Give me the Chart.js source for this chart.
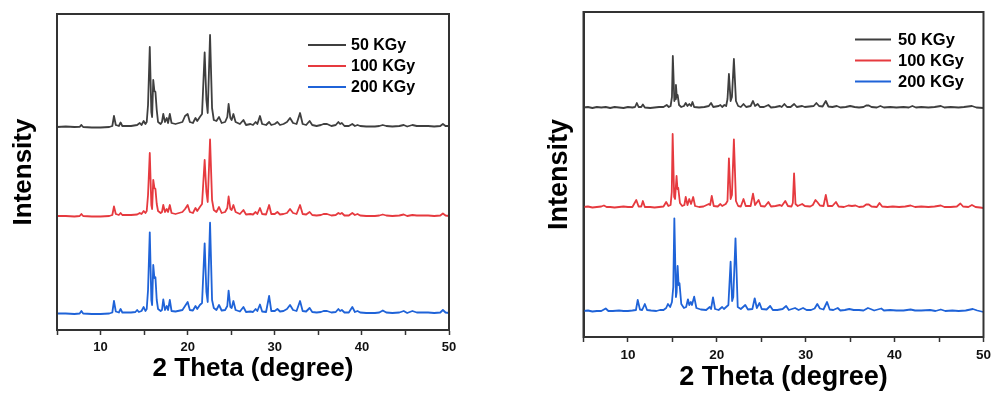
<!DOCTYPE html>
<html><head><meta charset="utf-8">
<script src="https://cdn.jsdelivr.net/npm/chart.js@4/dist/chart.umd.min.js"></script>
<style>
html,body{margin:0;padding:0;background:#fff;width:996px;height:396px;overflow:hidden}
.box{position:absolute;top:0;height:396px}
#b1{left:0;width:470px}
#b2{left:520px;width:476px}
</style></head><body>
<div class="box" id="b1"><canvas id="c1"></canvas></div>
<div class="box" id="b2"><canvas id="c2"></canvas></div>
<script>
// ---------- data (2θ in degrees, intensity in arbitrary stacked units) ----------
const seriesLabels = ['50 KGy', '100 KGy', '200 KGy'];
const xTickLabels = [10, 20, 30, 40, 50];
const xTickStep = 5;
const xRange = [5, 50];

// Left panel
const left50 = [[5,203],[6,203.5],[7,203],[7.6,203.2],[7.8,205],[8.0,203],[9,202.5],[10,202.5],[11,203],[11.35,204],[11.54,214],[11.75,205],[12.1,204],[12.3,207.5],[12.5,204],[13.5,204],[14.2,205],[14.5,207],[14.7,205],[14.95,209],[15.15,206],[15.3,208],[15.45,225],[15.65,283],[15.83,218],[15.92,213],[16.05,250],[16.18,239],[16.3,238],[16.45,220],[16.6,208],[16.9,206],[17.05,208],[17.2,216],[17.4,208],[17.6,212],[17.75,207],[17.95,216],[18.15,207],[18.6,206],[19.4,208],[19.7,214],[20.0,216],[20.25,208],[20.6,207],[20.9,212],[21.1,209],[21.4,213],[21.65,216],[21.95,277.5],[22.15,230],[22.3,217],[22.57,295],[22.8,222],[23.0,210],[23.3,209],[23.6,213],[23.9,207],[24.3,208],[24.55,213],[24.7,226],[24.9,212],[25.05,210],[25.25,216],[25.5,208],[26.0,206],[26.4,210],[26.7,205],[27.2,206],[27.5,205],[27.8,208],[28.0,206],[28.3,214],[28.55,206],[29.0,205],[29.35,208],[29.6,205],[30.0,206],[30.3,208],[30.6,205],[31.0,206],[31.4,208],[31.75,212],[32.1,207],[32.5,206],[32.9,217],[33.2,206],[33.6,205],[34.0,209],[34.3,205],[34.8,204],[35.3,205],[35.6,206],[36.0,206],[36.5,204],[37.0,205],[37.3,208],[37.5,206],[37.7,207],[38.0,204],[38.5,204],[38.9,206],[39.2,204],[39.5,205],[39.8,204],[40.5,203.5],[41.5,203.5],[42.0,204],[42.4,205],[42.8,204],[43.5,203.5],[44.3,204],[44.8,205],[45.2,203.5],[45.8,205],[46.3,204],[47.0,204],[47.6,204],[48.3,203.5],[49.0,204],[49.3,206],[49.6,204],[50,204]];
const left100 = [[5,114],[6,114],[7,113.5],[7.6,114],[7.8,116],[8.0,114],[9,113.5],[10,113.5],[11,114],[11.35,115],[11.54,123.5],[11.75,116],[12.1,115],[12.3,117],[12.5,115],[13.5,115],[14.2,115.5],[14.5,117],[14.7,116],[14.95,119],[15.15,117],[15.3,119],[15.45,135],[15.65,177],[15.83,125],[15.92,121],[16.05,150],[16.18,142],[16.3,141],[16.45,126],[16.6,119],[16.9,117],[17.05,118],[17.2,125],[17.4,118],[17.6,121],[17.75,118],[17.95,125],[18.15,117],[18.6,116],[19.4,118],[19.7,121],[20.0,125],[20.25,118],[20.6,117],[20.9,122],[21.1,119],[21.4,123],[21.65,126],[21.95,170],[22.15,138],[22.3,128],[22.57,190.5],[22.8,130],[23.0,120],[23.3,118],[23.6,123],[23.9,117],[24.3,118],[24.55,122],[24.7,133.5],[24.9,121],[25.05,120],[25.25,125],[25.5,118],[26.0,116],[26.4,120],[26.7,115.5],[27.2,116],[27.5,115.5],[27.8,118],[28.0,116],[28.3,122],[28.55,116],[29.0,115.5],[29.35,125],[29.6,116],[30.0,116],[30.3,118],[30.6,115.5],[31.0,116],[31.4,117],[31.75,121],[32.1,117],[32.5,116],[32.9,125],[33.2,116],[33.6,115.5],[34.0,118],[34.3,115],[34.8,114.5],[35.3,115],[35.6,116],[36.0,116],[36.5,114.5],[37.0,115],[37.3,117],[37.5,116],[37.7,117],[38.0,114.5],[38.5,114.5],[38.9,117],[39.2,115],[39.5,116],[39.8,114.5],[40.5,114],[41.5,114],[42.0,114.5],[42.4,115.5],[42.8,114.5],[43.5,114],[44.3,114.5],[44.8,115.5],[45.2,114],[45.8,115],[46.3,114.5],[47.0,114.5],[47.6,114.5],[48.3,114],[49.0,114.5],[49.3,116.5],[49.6,114.5],[50,114]];
const left200 = [[5,16.5],[6,16.5],[7,16],[7.6,16.5],[7.8,19],[8.0,16.5],[9,16],[10,16],[11,16.5],[11.35,17.5],[11.54,29],[11.75,18.5],[12.1,17.5],[12.3,21],[12.5,17.5],[13.5,17.5],[14.0,18],[14.2,20],[14.4,18],[14.7,19],[14.95,23],[15.15,19],[15.3,21],[15.45,40],[15.65,97.7],[15.83,30],[15.92,25],[16.05,65],[16.18,52],[16.3,52.7],[16.45,30],[16.6,21],[16.9,19],[17.05,20],[17.2,30.5],[17.4,20],[17.6,24],[17.75,20],[17.95,30],[18.15,19],[18.6,18.5],[19.4,20],[19.7,24],[20.0,28],[20.25,20],[20.6,19.5],[20.9,24],[21.1,21],[21.4,25],[21.65,27],[21.95,86.7],[22.15,38],[22.3,28],[22.57,107.3],[22.8,30],[23.0,22],[23.3,20],[23.6,25],[23.9,19.5],[24.3,20],[24.55,24],[24.7,39.3],[24.9,23],[25.05,22],[25.25,29],[25.5,20],[26.0,18.5],[26.4,23],[26.7,18],[27.2,18.5],[27.5,18],[27.8,21],[28.0,19],[28.3,25.5],[28.55,18.5],[29.0,18],[29.35,34],[29.6,19],[30.0,19],[30.3,21],[30.6,18.5],[31.0,19],[31.4,21],[31.75,25],[32.1,20],[32.5,19],[32.9,29],[33.2,19],[33.6,18.5],[34.0,22],[34.3,18],[34.8,17.5],[35.3,18],[35.6,19],[36.0,19],[36.5,17.5],[37.0,18],[37.3,21],[37.5,19],[37.7,20],[38.0,17.5],[38.5,17.5],[38.9,23],[39.2,18],[39.5,19],[39.8,17.5],[40.5,17],[41.5,17],[42.0,17.5],[42.4,19.5],[42.8,17.5],[43.5,17],[44.3,17.5],[44.8,19],[45.2,17],[45.8,19],[46.3,17.5],[47.0,17.5],[47.6,17.5],[48.3,17],[49.0,17.5],[49.3,20],[49.6,17.5],[50,17]];

// Right panel
const right50 = [[5,229.5],[5.5,230],[6,229],[6.5,230],[7,229.5],[7.5,230],[8,229],[8.5,230],[9,229.5],[9.5,229],[10,230],[10.5,229.5],[10.8,230],[11.0,234],[11.2,230],[11.5,230],[11.68,232.5],[11.9,229.5],[12.5,229],[13,229.5],[13.5,230],[14.0,230],[14.36,232],[14.6,230],[14.8,231],[14.95,240],[15.05,281],[15.22,236],[15.3,238],[15.4,252],[15.5,240],[15.59,242],[15.75,232],[16.0,230],[16.3,231],[16.5,234],[16.7,231],[16.9,233],[17.1,231],[17.26,235],[17.45,230],[18,229.5],[18.6,230],[19.1,231],[19.35,234],[19.6,230],[20.2,231],[20.4,232],[20.6,230],[20.85,232],[21.05,231],[21.2,238],[21.36,263],[21.55,236],[21.7,240],[21.92,278],[22.15,236],[22.4,231],[22.7,230],[23.0,233],[23.3,230],[23.8,231],[24.07,236],[24.3,231],[24.6,233],[24.85,230],[25.3,230],[25.8,232],[26.1,229.5],[26.6,230],[27.1,231],[27.3,230],[27.6,233],[27.9,230],[28.3,230],[28.7,233],[29.0,230],[29.6,231],[29.9,230],[30.4,230.5],[30.9,231],[31.2,234],[31.5,231],[31.9,230.5],[32.26,236],[32.55,230.5],[33.0,230],[33.5,231],[33.9,229.5],[34.5,230],[35.0,231],[35.5,230],[36.0,229.5],[36.5,230],[36.8,231.5],[37.1,231.5],[37.4,230],[38.0,229.5],[38.4,231],[38.8,229.5],[39.5,230],[40.2,229.5],[41.0,230],[41.6,229.5],[42.0,231],[42.4,229.5],[43.0,230],[43.8,229.5],[44.5,230],[45.2,231],[45.6,229.5],[46.3,230],[47.2,229.5],[47.8,230],[48.7,231],[49.2,229.5],[50,229]];
const right100 = [[5,130],[5.5,130.5],[6,129.5],[6.5,130],[7,130.5],[7.3,131.5],[7.6,130],[8,130],[8.5,129.5],[9,130],[9.5,130.5],[10,130],[10.5,130],[10.94,137],[11.2,130.5],[11.5,130.5],[11.68,136],[11.9,130],[12.5,130],[13,129.5],[13.5,130],[14,130.5],[14.3,135],[14.55,131],[14.8,132],[14.93,145],[15.03,203],[15.2,140],[15.3,138],[15.47,161],[15.57,148],[15.66,149],[15.85,134],[16.1,131],[16.35,132],[16.5,140],[16.7,132],[16.9,138],[17.1,133],[17.34,140],[17.55,131],[18,130],[18.5,130.5],[19.1,133],[19.25,132],[19.43,141],[19.65,131],[20.1,130.5],[20.4,133],[20.6,131],[21.0,133],[21.2,136],[21.36,178.7],[21.55,138],[21.7,142],[21.92,197.7],[22.15,136],[22.4,131],[22.7,130.5],[23.0,138],[23.25,131],[23.8,131],[24.07,143.3],[24.3,132],[24.7,137],[24.95,131],[25.4,130.5],[25.8,135],[26.1,130.5],[26.6,131],[27.1,132],[27.3,131],[27.7,136],[28.0,131],[28.4,130.5],[28.55,134],[28.69,163.7],[28.85,133],[29.1,131],[29.6,133],[29.9,131],[30.5,130.5],[30.8,132],[31.1,137],[31.3,135],[31.6,131.5],[32.0,131],[32.26,142],[32.5,131],[33.0,131],[33.4,135],[33.7,130.5],[34.3,130],[34.8,131.5],[35.2,131],[35.6,131.5],[36.0,130],[36.5,130.5],[36.8,132.5],[37.1,132.5],[37.4,130.5],[38.0,130],[38.3,134],[38.6,130.5],[39.2,130],[39.8,130.5],[40.5,130],[41.2,130.5],[41.8,131.5],[42.3,130],[43.0,130.5],[43.8,130],[44.5,130.5],[45.2,131.5],[45.6,130],[46.3,130],[47.0,130.5],[47.4,133.5],[47.7,130.5],[48.3,130],[48.7,132],[49.1,130],[49.6,129.5],[50,129]];
const right200 = [[5,26],[5.5,26.5],[6,25.5],[6.5,26],[7,26],[7.5,28.5],[7.8,26],[8.3,26],[9,26.5],[9.5,26],[10,26],[10.5,26.5],[10.9,27],[11.1,37],[11.35,27.5],[11.6,27],[11.9,33],[12.15,27],[12.6,26.5],[13.2,26],[13.6,27],[14.0,27],[14.3,29],[14.5,33],[14.75,30],[14.95,35],[15.1,50],[15.22,118.7],[15.4,40],[15.48,45],[15.59,71],[15.7,52],[15.8,53.7],[16.0,33],[16.3,29],[16.55,30],[16.75,37.7],[16.9,32],[17.08,35],[17.2,32],[17.45,40.3],[17.7,29],[18.2,27.5],[18.8,27],[19.2,30],[19.35,28],[19.57,39.7],[19.8,28],[20.2,27],[20.6,30],[20.8,28],[21.05,30],[21.3,32],[21.55,75.3],[21.72,36],[21.85,40],[22.1,98.7],[22.35,30],[22.7,28],[23.2,32],[23.5,27.5],[24.0,28],[24.26,38.7],[24.5,29],[24.8,34],[25.05,28],[25.6,27.5],[26.0,31],[26.3,27],[26.8,27],[27.4,28],[27.8,31],[28.1,27],[28.8,29],[29.2,27],[29.7,29],[30.1,27],[30.6,27],[31.0,28.5],[31.3,33],[31.6,28.5],[32.0,27.5],[32.4,35],[32.7,27.5],[33.1,27],[33.6,29],[33.9,26.5],[34.4,27],[34.9,28],[35.4,27],[36.0,27],[36.5,26.5],[37.0,29],[37.3,28],[37.7,26.5],[38.5,28.5],[38.8,26.5],[39.5,27],[40.2,26.5],[41.0,26.5],[41.8,27.5],[42.3,26.5],[43.0,26.5],[44.0,27],[44.6,26],[45.2,27.5],[45.7,26],[46.5,26.5],[47.2,26],[48.0,26.5],[48.8,28],[49.3,26.5],[50,25]];

// ---------- styling ----------
const seriesColors = ['#3f3f3f', '#e63a3f', '#1f63d8'];
Chart.defaults.font.family = "'Liberation Sans', Arial, Helvetica, sans-serif";
Chart.defaults.color = '#000';

const framePlugin = {
  id: 'frame',
  afterDraw(chart) {
    const {ctx, chartArea: a} = chart;
    ctx.save();
    ctx.strokeStyle = '#333';
    ctx.lineWidth = 2;
    ctx.strokeRect(a.left, a.top, a.right - a.left, a.bottom - a.top);
    ctx.restore();
  }
};

const insideLegend = {
  id: 'insideLegend',
  afterDraw(chart, args, o) {
    const {ctx} = chart;
    ctx.save();
    ctx.font = `bold ${o.size}px 'Liberation Sans', Arial, sans-serif`;
    ctx.textBaseline = 'middle';
    ctx.textAlign = 'left';
    chart.data.datasets.forEach((ds, i) => {
      const y = o.y + i * o.dy;
      ctx.strokeStyle = ds.borderColor;
      ctx.lineWidth = 2;
      ctx.beginPath();
      ctx.moveTo(o.x0, y);
      ctx.lineTo(o.x1, y);
      ctx.stroke();
      ctx.fillStyle = '#000';
      ctx.fillText(ds.label, o.tx, y + 1);
    });
    ctx.restore();
  }
};

function makeChart(id, series, p) {
  const datasets = series.map((s, i) => ({
    label: seriesLabels[i],
    data: s.map(pt => ({x: pt[0], y: pt[1]})),
    borderColor: seriesColors[i],
    borderWidth: 1.8,
    pointRadius: 0,
    tension: 0,
    borderJoinStyle: 'round',
    fill: false
  }));
  return new Chart(document.getElementById(id), {
    type: 'line',
    data: {datasets},
    plugins: [framePlugin, insideLegend],
    options: {
      responsive: true,
      maintainAspectRatio: false,
      animation: false,
      devicePixelRatio: 1,
      layout: {padding: {top: p.top, right: p.right, left: 0, bottom: 0}},
      plugins: {
        legend: {display: false},
        tooltip: {enabled: false},
        insideLegend: p.legend
      },
      scales: {
        x: {
          type: 'linear', position: 'bottom',
          min: xRange[0], max: xRange[1],
          ticks: {
            stepSize: xTickStep, autoSkip: false, maxRotation: 0, color: '#111',
            padding: p.tickPad,
            font: {size: p.tickSize, weight: 'bold'},
            callback: v => xTickLabels.includes(v) ? String(v) : ''
          },
          grid: {drawOnChartArea: false, drawTicks: true, tickLength: 5, tickColor: '#333', tickWidth: 1.5},
          border: {display: true, color: '#333', width: 2},
          title: {display: true, text: '2 Theta (degree)', color: '#000',
                  font: {size: p.titleSize, weight: 'bold'}, padding: {top: 0, bottom: p.xTitlePad}},
          afterFit: s => { s.height = p.xH; }
        },
        y: {
          type: 'linear', position: 'left',
          min: 0, max: p.yMax,
          ticks: {display: false},
          grid: {display: false, drawTicks: false},
          border: {display: true, color: '#333', width: 2},
          title: {display: true, text: 'Intensity', color: '#000',
                  font: {size: p.titleSize, weight: 'bold'}, padding: {top: p.yTitlePad, bottom: 0}},
          afterFit: s => { s.width = p.yW; }
        }
      }
    }
  });
}

makeChart('c1', [left50, left100, left200], {
  top: 14, right: 21, xH: 66, yW: 57, yMax: 316,
  tickSize: 13, tickPad: 5, titleSize: 26, xTitlePad: 12, yTitlePad: 8,
  legend: {x0: 308, x1: 346, tx: 351, y: 45, dy: 21, size: 16}
});
makeChart('c2', [right50, right100, right200], {
  top: 12, right: 9.5, xH: 59, yW: 63.5, yMax: 325,
  tickSize: 13.5, tickPad: 5, titleSize: 27, xTitlePad: 2, yTitlePad: 23,
  legend: {x0: 335, x1: 371, tx: 378, y: 39.5, dy: 21, size: 16.5}
});
</script>
</body></html>
